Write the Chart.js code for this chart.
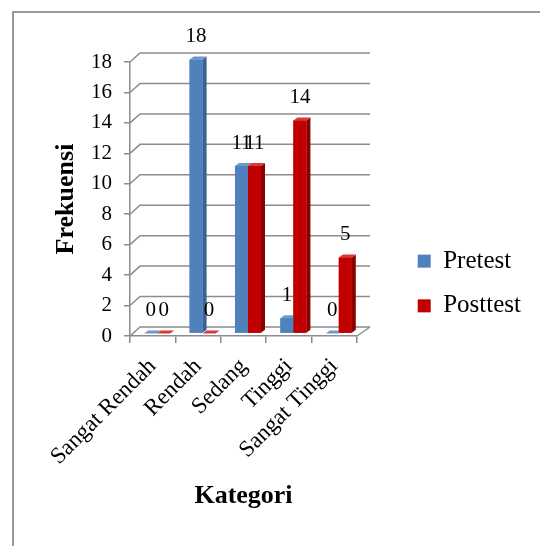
<!DOCTYPE html>
<html>
<head>
<meta charset="utf-8">
<script src="https://cdn.jsdelivr.net/npm/chart.js@4/dist/chart.umd.min.js"></script>
<style>
  html, body { margin: 0; padding: 0; background: #ffffff; }
  #wrap { width: 540px; height: 546px; }
</style>
</head>
<body>
<div id="wrap"><canvas id="c" width="540" height="546"></canvas></div>
<script>
// ---- data ----
const categories = ["Sangat Rendah", "Rendah", "Sedang", "Tinggi", "Sangat Tinggi"];
const pretest = [0, 18, 11, 1, 0];
const posttest = [0, 0, 11, 14, 5];
const seriesNames = ["Pretest", "Posttest"];
const yTicksMax = 18;
const yTickStep = 2;

// ---- styles ----
const FONT = '"Liberation Serif", "Times New Roman", serif';
const GRID = '#8c8c8c';
const FRONT = ['#4f81bd', '#c00000'];
const SIDE = ['#3a6391', '#8a0000'];
const TOP = ['#6d98cc', '#d63a3a'];
const DX = 10, DY = -9;      // depth of back wall
const BX = 4.5, BY = -2.5;   // bar front-face shift
const SX = 4, SY = -3;       // bar depth

const threeD = {
  id: 'threeD',
  beforeDraw(chart) {
    const ctx = chart.ctx;
    ctx.save();
    ctx.fillStyle = '#ffffff';
    ctx.fillRect(0, 0, chart.width, chart.height);
    ctx.strokeStyle = '#9a9a9a';
    ctx.lineWidth = 2;
    ctx.beginPath();
    ctx.moveTo(13, chart.height);
    ctx.lineTo(13, 12);
    ctx.lineTo(chart.width, 12);
    ctx.stroke();
    ctx.restore();
  },
  beforeDatasetsDraw(chart) {
    const ctx = chart.ctx;
    const a = chart.chartArea;
    const y = chart.scales.y;
    ctx.save();
    ctx.strokeStyle = GRID;
    ctx.lineWidth = 1.5;
    y.ticks.forEach(t => {
      const py = y.getPixelForValue(t.value);
      ctx.beginPath();
      ctx.moveTo(a.left, py);
      ctx.lineTo(a.left + DX, py + DY);
      ctx.lineTo(a.right + DX + 3, py + DY);
      ctx.stroke();
    });
    // floor right edge
    const p0 = y.getPixelForValue(0);
    ctx.beginPath();
    ctx.moveTo(a.right, p0);
    ctx.lineTo(a.right + DX + 3, p0 + DY);
    ctx.stroke();
    ctx.restore();
    ctx.save();
    ctx.translate(BX, BY);
  },
  afterDatasetsDraw(chart) {
    const ctx = chart.ctx;
    const n = chart.data.labels.length;
    const metas = [chart.getDatasetMeta(0), chart.getDatasetMeta(1)];
    for (let i = 0; i < n; i++) {
      for (let d = 0; d < metas.length; d++) {
        const el = metas[d].data[i];
        const {x, y, base, width} = el.getProps(['x', 'y', 'base', 'width'], true);
        const l = x - width / 2, r = x + width / 2;
        const top = Math.min(y, base), bot = Math.max(y, base);
        ctx.fillStyle = SIDE[d];
        ctx.beginPath();
        ctx.moveTo(r, top); ctx.lineTo(r + SX, top + SY); ctx.lineTo(r + SX, bot + SY); ctx.lineTo(r, bot);
        ctx.closePath(); ctx.fill();
        ctx.fillStyle = TOP[d];
        ctx.beginPath();
        ctx.moveTo(l, top); ctx.lineTo(l + SX, top + SY); ctx.lineTo(r + SX, top + SY); ctx.lineTo(r, top);
        ctx.closePath(); ctx.fill();
        el.draw(ctx);
      }
    }
    // data labels
    ctx.fillStyle = '#000000';
    ctx.font = '21px ' + FONT;
    ctx.textAlign = 'center';
    ctx.textBaseline = 'middle';
    for (let d = 0; d < metas.length; d++) {
      const vals = chart.data.datasets[d].data;
      metas[d].data.forEach((el, i) => {
        const {x, y, base} = el.getProps(['x', 'y', 'base'], true);
        ctx.fillText(String(vals[i]), x, Math.min(y, base) - 23);
      });
    }
    ctx.restore();
  }
};

new Chart(document.getElementById('c'), {
  type: 'bar',
  data: {
    labels: categories,
    datasets: [
      { label: seriesNames[0], data: pretest, backgroundColor: FRONT[0], borderWidth: 0 },
      { label: seriesNames[1], data: posttest, backgroundColor: FRONT[1], borderWidth: 0 }
    ]
  },
  plugins: [threeD],
  options: {
    responsive: false,
    animation: false,
    events: [],
    layout: { padding: { left: 40, top: 62, right: 9, bottom: 41 } },
    datasets: { bar: { categoryPercentage: 0.573, barPercentage: 1.0 } },
    plugins: {
      legend: {
        position: 'right',
        maxWidth: 200,
        labels: {
          boxWidth: 13, boxHeight: 13, padding: 19.7,
          color: '#000000',
          font: { family: FONT, size: 25 }
        }
      },
      tooltip: { enabled: false }
    },
    scales: {
      x: {
        grid: { display: true, drawOnChartArea: false, drawTicks: true, tickLength: 7, color: GRID, lineWidth: 1.5, offset: true },
        border: { display: true, color: GRID, width: 1.5 },
        ticks: { color: '#000000', font: { family: FONT, size: 23 }, minRotation: 45, maxRotation: 45, autoSkip: false, padding: 10 },
        title: { display: true, text: 'Kategori', color: '#000000', font: { family: FONT, size: 26, weight: 'bold', lineHeight: 0.67 }, padding: { top: 0, bottom: 0 } },
        afterFit(s) { s.height = 546 - 41 - 336; }
      },
      y: {
        min: 0, max: yTicksMax,
        grid: { display: true, drawOnChartArea: false, drawTicks: true, tickLength: 6, color: GRID, lineWidth: 1.5 },
        border: { display: true, color: GRID, width: 1.5 },
        ticks: { stepSize: yTickStep, color: '#000000', font: { family: FONT, size: 21 }, padding: 12 },
        title: { display: true, text: 'Frekuensi', color: '#000000', font: { family: FONT, size: 26, weight: 'bold' }, padding: { top: 11, bottom: 0 } },
        afterFit(s) { s.width = 90; }
      },
      spacer: {
        type: 'linear', position: 'right', display: true,
        ticks: { display: false }, grid: { display: false, drawTicks: false }, border: { display: false },
        afterFit(s) { s.width = 41; }
      }
    }
  }
});
</script>
</body>
</html>
